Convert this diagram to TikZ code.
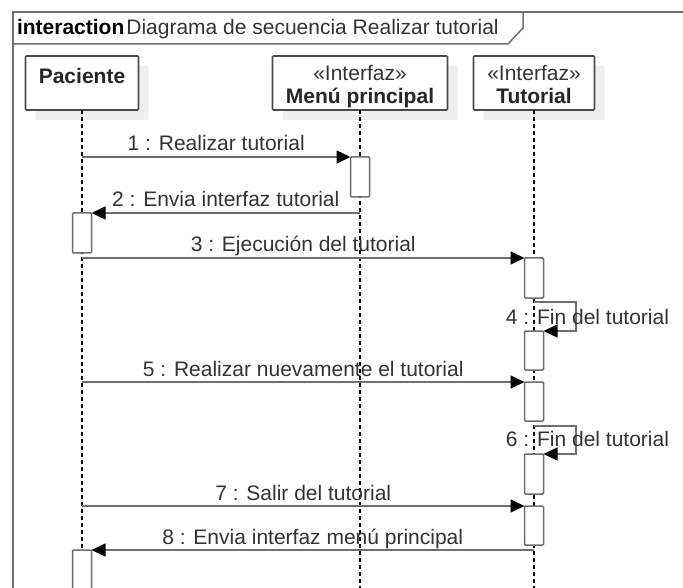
\documentclass[tikz,border=0pt]{standalone}
\usepackage{fontspec}
\setmainfont{Liberation Sans}
\usetikzlibrary{arrows.meta}
\definecolor{linegray}{HTML}{6E6E6E}
\definecolor{boxgray}{HTML}{4A4A4A}
\definecolor{txtgray}{HTML}{333333}
\definecolor{shadowgray}{HTML}{EFEFEF}
\begin{document}
\begin{tikzpicture}[x=1pt,y=-1pt,
  every node/.style={font=\fontsize{21}{25}\selectfont, text=txtgray, inner sep=0pt, outer sep=0pt},
  head/.style={draw=boxgray, line width=1.6pt, fill=white, rounded corners=1pt,
    anchor=north, minimum height=54pt,
    preaction={fill=shadowgray, draw=none, transform canvas={shift={(10pt,-10pt)}}}},
  lifeline/.style={black, line width=1.3pt, dash pattern=on 4pt off 3pt},
  act/.style={draw=linegray, line width=1.5pt, fill=white, rounded corners=1pt,
    minimum width=19pt, anchor=north},
  msg/.style={linegray, line width=1.5pt, -{Triangle[length=14pt,width=13pt,black]}},
  lbl/.style={anchor=base, yshift=6pt},
  framec/.style={linegray, line width=1.5pt}
]
\useasboundingbox (0,0) rectangle (683,588);
\clip (0,0) rectangle (683,588);

% interaction frame with its name tab
\draw[framec] (13,600) -- (13,12) -- (700,12);
\draw[framec] (13,44) -- (508,44) -- (523,28) -- (523,12);
\node[anchor=base west, text=black] (hdr) at (17,35)
  {\textbf{interaction}\hspace{2pt}{\color{txtgray}Diagrama de secuencia Realizar tutorial}};

% lifeline heads
\node[head, minimum width=113pt] (pac) at (82,56) {};
\node[head, minimum width=175pt] (men) at (360,56) {};
\node[head, minimum width=121pt] (tut) at (534,56) {};
\node[anchor=base, text=black!85] (pacN) at (pac.south |- 0,83.5) {\bfseries Paciente};
\node[anchor=base] (menS) at (men.south |- 0,80.5) {«Interfaz»};
\node[anchor=base, text=black!85] (menN) at (men.south |- 0,104) {\bfseries Menú principal};
\node[anchor=base] (tutS) at (tut.south |- 0,81) {«Interfaz»};
\node[anchor=base, text=black!85] (tutN) at (tut.south |- 0,104) {\bfseries Tutorial};

% lifelines
\coordinate (bottom) at (0,600);
\draw[lifeline] (pac.south) -- (pac.south |- bottom);
\draw[lifeline] (men.south) -- (men.south |- bottom);
\draw[lifeline] (tut.south) -- (tut.south |- bottom);

% activation bars
\node[act, minimum height=40pt] (aM1) at (men.south |- 0,157) {};
\node[act, minimum height=40pt] (aP1) at (pac.south |- 0,213) {};
\node[act, minimum height=40pt] (aT1) at (tut.south |- 0,258) {};
\node[act, minimum height=39pt] (aT2) at (tut.south |- 0,331) {};
\node[act, minimum height=39pt] (aT3) at (tut.south |- 0,382) {};
\node[act, minimum height=40pt] (aT4) at (tut.south |- 0,454) {};
\node[act, minimum height=39pt] (aT5) at (tut.south |- 0,506) {};
\node[act, minimum height=60pt] (aP2) at (pac.south |- 0,550) {};

% messages
\draw[msg] (pac.south |- aM1.north) -- (aM1.north west)
  node[lbl, midway] (m1) {1 : Realizar tutorial};
\draw[msg] (men.south |- aP1.north) -- (aP1.north east)
  node[lbl, midway] (m2) {2 : Envia interfaz tutorial};
\draw[msg] (pac.south |- aT1.north) -- (aT1.north west)
  node[lbl, midway] (m3) {3 : Ejecución del tutorial};
\coordinate (s4) at (tut.south |- 0,302);
\draw[msg] (s4) -- ++(42,0) |- (aT2.north east);
\node[anchor=base] (m4) at (587.5,324.5) {4 : Fin del tutorial};
\draw[msg] (pac.south |- aT3.north) -- (aT3.north west)
  node[lbl, midway] (m5) {5 : Realizar nuevamente el tutorial};
\coordinate (s6) at (tut.south |- 0,426);
\draw[msg] (s6) -- ++(42,0) |- (aT4.north east);
\node[anchor=base] (m6) at (587.5,446.5) {6 : Fin del tutorial};
\draw[msg] (pac.south |- aT5.north) -- (aT5.north west)
  node[lbl, midway] (m7) {7 : Salir del tutorial};
\draw[msg] (tut.south |- aP2.north) -- (aP2.north east)
  node[lbl, midway] (m8) {8 : Envia interfaz menú principal};
\end{tikzpicture}
\end{document}
